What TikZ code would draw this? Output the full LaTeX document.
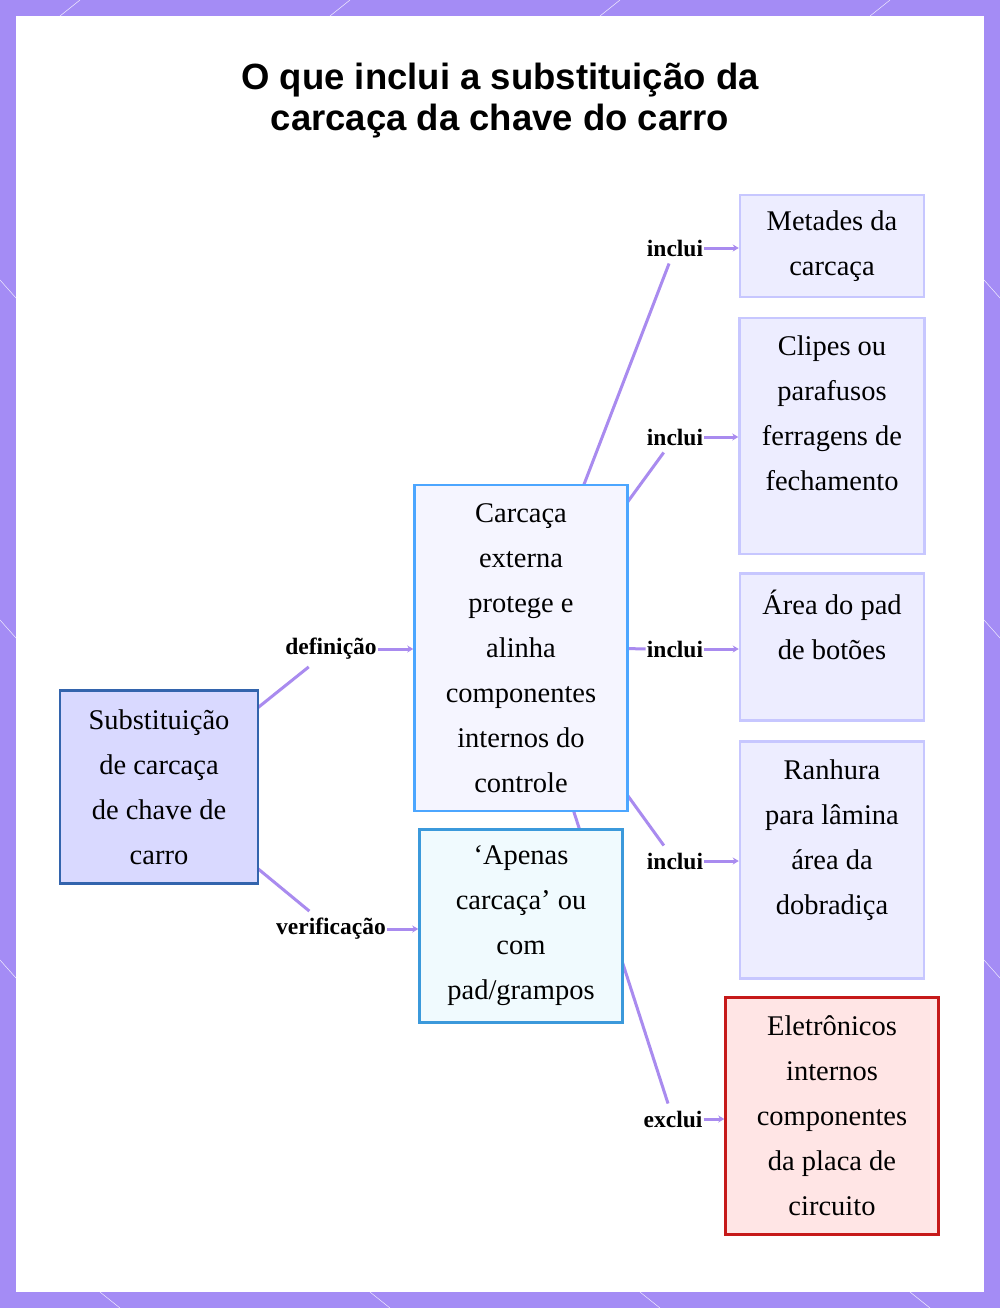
\documentclass[tikz,border=0pt]{standalone}
\usepackage{fontspec}
\usetikzlibrary{arrows.meta}
\setmainfont{Liberation Serif}
\newfontfamily\titlefont{Liberation Sans}
\definecolor{frame}{HTML}{A48CF5}
\definecolor{edge}{HTML}{A98BEF}
\tikzset{
  box/.style={draw, line width=2.5pt, align=center, inner sep=0pt,
    font=\fontsize{28.5}{45}\selectfont},
  tag/.style={fill=white, inner xsep=1pt, inner ysep=7pt, font=\fontsize{23.5}{26}\selectfont\bfseries},
  link/.style={edge, line width=3pt},
  arr/.style={edge, line width=3pt, -{Stealth[length=6pt,width=7pt]}}
}
\begin{document}
\begin{tikzpicture}[x=1pt,y=-1pt]
  \useasboundingbox (0,0) rectangle (1000,1308);
  % Frame
  \fill[white] (0,0) rectangle (1000,1308);
  \draw[frame, line width=16pt] (8,8) rectangle (992,1300);
  \foreach \p in {60,330,600,870} {
    \draw[white, thin] (\p,16) -- (\p+20,0);
    \draw[white, thin] (\p+40,1292) -- (\p+60,1308);
  }
  \foreach \q in {280,620,960} {
    \draw[white, thin] (0,\q) -- (16,\q+18);
    \draw[white, thin] (984,\q) -- (1000,\q+18);
  }
  % Title
  \node[align=center, font=\titlefont\fontsize{36.5}{41}\selectfont\bfseries] (title) at (500,101)
    {O que inclui a substituição da\\carcaça da chave do carro};

  % Tags
  \node[tag] (tdef) at (331,649) {definição};
  \node[tag] (tver) at (331,929) {verificação};
  \node[tag] (t1) at (675,248) {inclui};
  \node[tag] (t2) at (675,437) {inclui};
  \node[tag] (t3) at (675,649) {inclui};
  \node[tag] (t4) at (675,861) {inclui};
  \node[tag] (t5) at (673,1119) {exclui};

  % Lines to tags (behind boxes)
  \draw[link] (159,787) coordinate (subc) -- (tdef);
  \draw[link] (subc) -- (tver);
  \foreach \t in {t1,t2,t3,t4,t5}
    \draw[link] (521,648) -- (\t);

  % Boxes
  \node[box, fill=blue!15!white, draw=blue!60!cyan!60!black!80, minimum width=198pt, minimum height=193pt]
    (sub) at (159,787) {Substituição\\de carcaça\\de chave de\\carro};
  \node[box, fill=blue!4, draw=blue!50!cyan!70!white, minimum width=213pt, minimum height=326pt]
    (carc) at (521,648) {Carcaça\\externa\\protege e\\alinha\\componentes\\internos do\\controle};
  \node[box, fill=cyan!6, draw=cyan!70!blue!80, minimum width=203pt, minimum height=193pt]
    (apen) at (521,926) {‘Apenas\\carcaça’ ou\\com\\pad/grampos};
  \node[box, fill=blue!7, draw=blue!22, minimum width=184pt, minimum height=102pt]
    (meta) at (832,246) {Metades da\\carcaça};
  \node[box, fill=blue!7, draw=blue!22, minimum width=185pt, minimum height=236pt]
    (clip) at (832,436) {Clipes ou\\parafusos\\ferragens de\\fechamento\\\mbox{}};
  \node[box, fill=blue!7, draw=blue!22, minimum width=184pt, minimum height=147pt]
    (area) at (832,647) {Área do pad\\de botões\\\mbox{}};
  \node[box, fill=blue!7, draw=blue!22, minimum width=184pt, minimum height=237pt]
    (ranh) at (832,860) {Ranhura\\para lâmina\\área da\\dobradiça\\\mbox{}};
  \node[box, fill=red!10, draw=red!75!black!90, minimum width=213pt, minimum height=237pt]
    (elet) at (832,1116) {Eletrônicos\\internos\\componentes\\da placa de\\circuito};

  % Arrows from tags
  \draw[arr] (tdef) -- (carc.west |- tdef);
  \draw[arr] (tver) -- (apen.west |- tver);
  \draw[arr] (t1) -- (meta.west |- t1);
  \draw[arr] (t2) -- (clip.west |- t2);
  \draw[arr] (t3) -- (area.west |- t3);
  \draw[arr] (t4) -- (ranh.west |- t4);
  \draw[arr] (t5) -- (elet.west |- t5);
\end{tikzpicture}
\end{document}
